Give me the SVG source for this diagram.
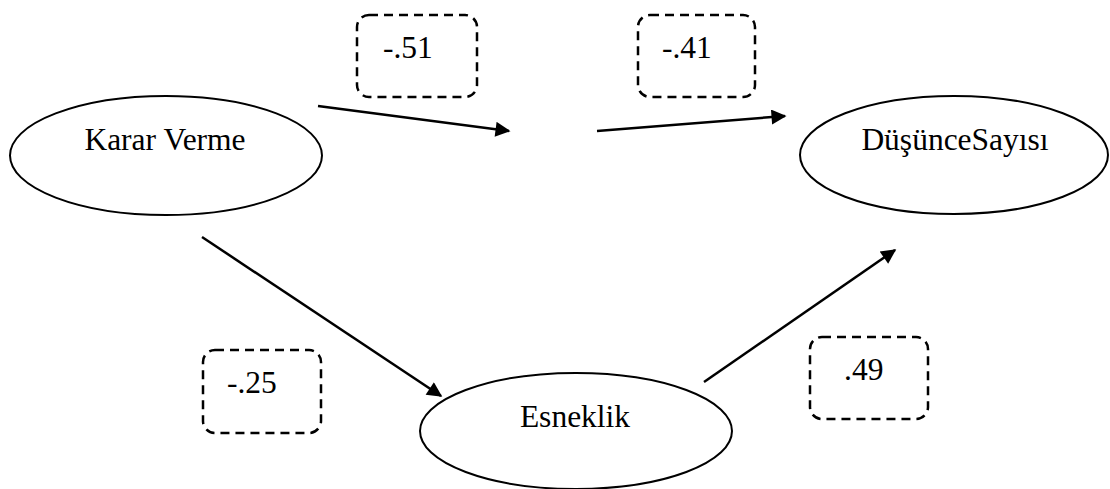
<svg xmlns="http://www.w3.org/2000/svg" width="1110" height="489" viewBox="0 0 1110 489">
<style>
.node{fill:#fff;stroke:#000;stroke-width:2}
.lbl{fill:#fff;stroke:#000;stroke-width:2.5;stroke-dasharray:9 6}
.t{font-family:"Liberation Serif","Times New Roman",serif;font-size:31.5px;fill:#000}
.e{stroke:#000;stroke-width:2.5;fill:none;marker-end:url(#ah)}
</style>
<defs>
<marker id="ah" viewBox="0 0 10 10" refX="9" refY="5" markerWidth="6.6" markerHeight="6" markerUnits="strokeWidth" orient="auto">
<path d="M0,0 L10,5 L0,10 z" fill="#000"/>
</marker>
</defs>
<rect width="1110" height="489" fill="#fff"/>
<g id="connectors">
<line class="e" x1="318" y1="106" x2="509" y2="131"/>
<line class="e" x1="597" y1="131" x2="785" y2="116"/>
<line class="e" x1="202" y1="237" x2="441" y2="396"/>
<line class="e" x1="704" y1="382" x2="895" y2="250"/>
</g>
<g id="node-karar">
<ellipse class="node" cx="166" cy="155.5" rx="156" ry="59.5"/>
<text class="t" x="165" y="150" text-anchor="middle">Karar Verme</text>
</g>
<g id="node-dusunce">
<ellipse class="node" cx="954" cy="155" rx="154" ry="59"/>
<text class="t" x="955" y="150" text-anchor="middle">DüşünceSayısı</text>
</g>
<g id="node-esneklik">
<ellipse class="node" cx="576" cy="431" rx="156" ry="58"/>
<text class="t" x="575" y="427" text-anchor="middle">Esneklik</text>
</g>
<g id="label-51">
<rect class="lbl" x="357" y="15" width="120" height="82" rx="12"/>
<text class="t" x="383" y="58">-.51</text>
</g>
<g id="label-41">
<rect class="lbl" x="638" y="15" width="117" height="82" rx="12"/>
<text class="t" x="662" y="58">-.41</text>
</g>
<g id="label-25">
<rect class="lbl" x="203" y="350" width="118" height="83" rx="12"/>
<text class="t" x="227" y="393">-.25</text>
</g>
<g id="label-49">
<rect class="lbl" x="810" y="337" width="118" height="82" rx="12"/>
<text class="t" x="844" y="380">.49</text>
</g>
</svg>
